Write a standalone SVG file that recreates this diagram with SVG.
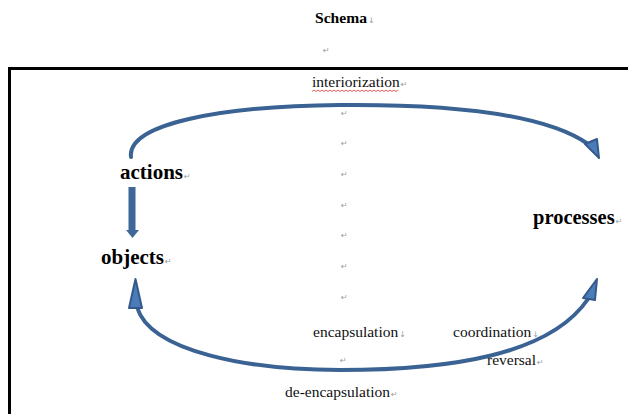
<svg xmlns="http://www.w3.org/2000/svg" width="628" height="414" viewBox="0 0 628 414">
  <style>
    .lbl { font-family: "Liberation Serif", "Times New Roman", serif; font-size: 15.5px; fill: #111; }
    .node { font-family: "Liberation Serif", "Times New Roman", serif; font-weight: bold; font-size: 21px; fill: #000; }
    .mark { font-family: "DejaVu Sans", sans-serif; font-size: 8px; fill: #999; font-weight: normal; }
    .flow { fill: none; stroke: #3a6293; stroke-width: 4; stroke-linecap: round; }
    .head { fill: #4a7cba; stroke: #36598a; stroke-width: 2; stroke-linejoin: round; }
  </style>
  <rect width="628" height="414" fill="#ffffff"/>

  <!-- title above the frame -->
  <g id="title">
    <text x="315" y="23" class="node" style="font-size:15.6px">Schema<tspan class="mark" dx="1">↓</tspan></text>
    <text x="323" y="53" class="mark">↵</text>
  </g>

  <!-- frame -->
  <path d="M9.5,414 V68.5 H628" fill="none" stroke="#000" stroke-width="3"/>

  <!-- connectors -->
  <g id="connectors">
    <!-- actions -> processes (interiorization) -->
    <path class="flow" d="M131,157 C127,124 220,106 340,105 C450,104 545,114 588,144"/>
    <polygon class="head" points="585,144 597,139 599,158"/>
    <!-- actions -> objects -->
    <rect x="128.5" y="187" width="7" height="44" fill="#3f6797"/>
    <polygon points="126,230 139,230 132.5,238" fill="#3f6797"/>
    <!-- processes -> objects (encapsulation) -->
    <path class="flow" d="M588,299 C550,355 450,370 340,370 C250,370 150,352 137,307"/>
    <polygon class="head" points="597,279 583,298 595,300"/>
    <polygon class="head" points="135.5,279 129,308 142,308"/>
  </g>

  <!-- nodes -->
  <g id="actions">
    <text x="120" y="179" class="node">actions<tspan class="mark" dx="1">↵</tspan></text>
  </g>
  <g id="objects">
    <text x="101" y="264" class="node">objects<tspan class="mark" dx="1">↵</tspan></text>
  </g>
  <g id="processes">
    <text x="533" y="224" class="node" style="font-size:20.5px">processes<tspan class="mark" dx="1">↵</tspan></text>
  </g>

  <!-- labels -->
  <g id="interiorization">
    <text x="312" y="87" class="lbl">interiorization<tspan class="mark" dx="1">↵</tspan></text>
    <path d="M312,91.5 l2,-1.5 l2,1.5 l2,-1.5 l2,1.5 l2,-1.5 l2,1.5 l2,-1.5 l2,1.5 l2,-1.5 l2,1.5 l2,-1.5 l2,1.5 l2,-1.5 l2,1.5 l2,-1.5 l2,1.5 l2,-1.5 l2,1.5 l2,-1.5 l2,1.5 l2,-1.5 l2,1.5 l2,-1.5 l2,1.5 l2,-1.5 l2,1.5 l2,-1.5 l2,1.5 l2,-1.5 l2,1.5 l2,-1.5 l2,1.5 l2,-1.5 l2,1.5 l2,-1.5 l2,1.5 l2,-1.5 l2,1.5 l2,-1.5 l2,1.5 l2,-1.5 l2,1.5 l2,-1.5" fill="none" stroke="#e03030" stroke-width="0.8"/>
  </g>
  <g id="paragraph-marks">
    <text x="341" y="116" class="mark">↵</text>
    <text x="341" y="146" class="mark">↵</text>
    <text x="341" y="177" class="mark">↵</text>
    <text x="341" y="208" class="mark">↵</text>
    <text x="341" y="238" class="mark">↵</text>
    <text x="341" y="269" class="mark">↵</text>
    <text x="341" y="300" class="mark">↵</text>
    <text x="340" y="363" class="mark">↵</text>
  </g>
  <g id="encapsulation">
    <text x="313" y="337" class="lbl">encapsulation<tspan class="mark" dx="1">↓</tspan></text>
  </g>
  <g id="coordination">
    <text x="453" y="337" class="lbl">coordination<tspan class="mark" dx="1">↓</tspan></text>
  </g>
  <g id="reversal">
    <text x="487" y="365" class="lbl">reversal<tspan class="mark" dx="1">↵</tspan></text>
  </g>
  <g id="de-encapsulation">
    <text x="285" y="397" class="lbl">de-encapsulation<tspan class="mark" dx="1">↵</tspan></text>
  </g>
</svg>
